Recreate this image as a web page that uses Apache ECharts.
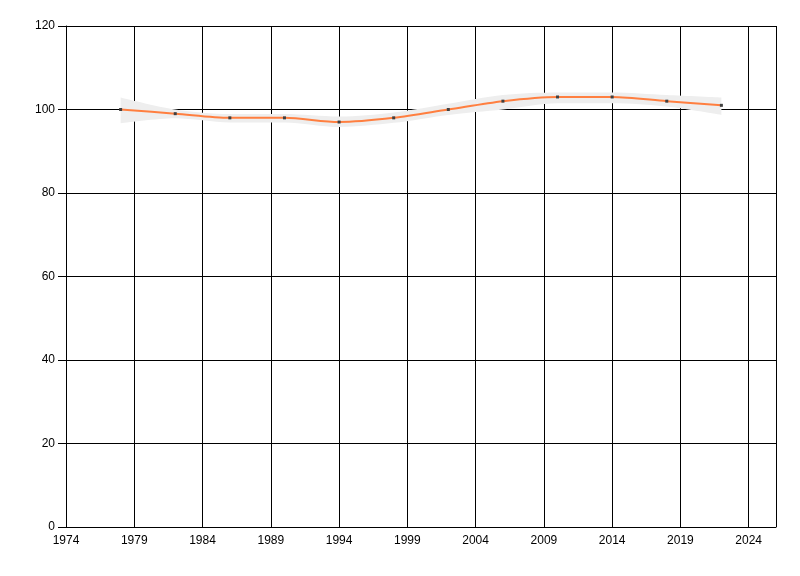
<!DOCTYPE html>
<html>
<head>
<meta charset="utf-8">
<script src="https://cdn.jsdelivr.net/npm/echarts@6/dist/echarts.min.js"></script>
<style>
  html, body { margin: 0; padding: 0; background: #fff; }
  #chart { width: 800px; height: 576px; }
</style>
</head>
<body>
<div id="chart"></div>
<script>
// values
const years = [1978, 1982, 1986, 1990, 1994, 1998, 2002, 2006, 2010, 2014, 2018, 2022]
const values = [100, 99, 98, 98, 97, 98, 100, 102, 103, 103, 102, 101]
const bandLow = [96.7, 97.9, 96.9, 96.9, 95.8, 96.8, 98.7, 100.0, 101.5, 101.5, 100.7, 98.7]
const bandHigh = [102.9, 100.0, 98.9, 98.9, 98.3, 99.3, 101.4, 103.5, 104.1, 104.1, 103.5, 102.9]

// x axis starts at 1974; ticks every 5 years, so plot offsets from it
const xStart = 1974
const xEnd = 2026

const chart = echarts.init(document.getElementById('chart'))

const toX = (y) => y - xStart
const lineData = years.map((y, i) => [toX(y), values[i]])
// band rows are [value, x] so the stack runs on the y values
const lowData = years.map((y, i) => [bandLow[i], toX(y)])
const spanData = years.map((y, i) => [+(bandHigh[i] - bandLow[i]).toFixed(2), toX(y)])

const labelFont = {
  color: '#000',
  fontFamily: 'Liberation Sans',
  fontSize: 12
}

chart.setOption({
  animation: false,
  grid: { left: 66, right: 24, top: 26, bottom: 49 },
  xAxis: {
    type: 'value',
    min: 0,
    max: xEnd - xStart,
    interval: 5,
    axisLine: { show: true, onZero: false, lineStyle: { color: '#000', width: 1 } },
    axisTick: { show: false },
    axisLabel: {
      ...labelFont,
      margin: 8,
      showMaxLabel: false,
      formatter: (v) => String(v + xStart)
    },
    splitLine: { show: true, lineStyle: { color: '#000', width: 1 } }
  },
  yAxis: {
    type: 'value',
    min: 0,
    max: 120,
    interval: 20,
    axisLine: { show: true, lineStyle: { color: '#000', width: 1 } },
    axisTick: { show: true, length: 8, lineStyle: { color: '#000' } },
    axisLabel: { ...labelFont, margin: 11 },
    splitLine: { show: true, lineStyle: { color: '#000', width: 1 } }
  },
  series: [
    {
      name: 'low',
      type: 'line',
      stack: 'band',
      data: lowData,
      encode: { x: 1, y: 0 },
      smooth: 0.3,
      symbol: 'none',
      lineStyle: { opacity: 0 },
      silent: true
    },
    {
      name: 'band',
      type: 'line',
      stack: 'band',
      data: spanData,
      encode: { x: 1, y: 0 },
      smooth: 0.3,
      symbol: 'none',
      lineStyle: { opacity: 0 },
      areaStyle: { color: '#eeeeee', opacity: 1 },
      silent: true
    },
    {
      name: 'value',
      type: 'line',
      data: lineData,
      smooth: 0.3,
      symbol: 'rect',
      symbolSize: 3,
      showAllSymbol: true,
      lineStyle: { color: '#ff7f40', width: 2 },
      itemStyle: { color: '#404040' },
      z: 3
    }
  ]
})
</script>
</body>
</html>
